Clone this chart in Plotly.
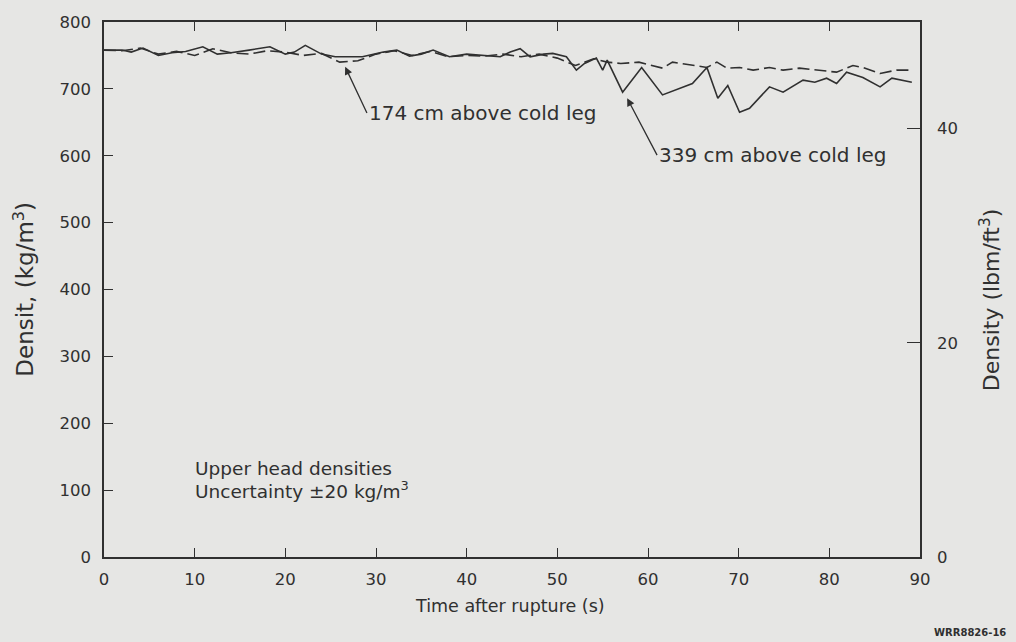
import plotly.graph_objects as go

# Time after rupture (s) and density (kg/m3) — 174 cm above cold leg (dashed)
t_174 = [0, 2, 4, 6, 8, 10, 12, 14, 16, 18, 20, 22, 24, 26, 28, 30, 32, 34, 36, 38, 40, 42,
         44, 46, 48, 50, 52, 54, 55.5, 57, 59, 61.6, 62.7, 64.9, 66.5, 67.6, 68.7, 70.1, 71.6,
         73.4, 74.9, 76.7, 78.6, 80.8, 82.6, 83.7, 85.6, 87.4, 89.1]
d_174 = [758, 757, 761, 752, 756, 750, 760, 754, 752, 757, 755, 750, 753, 740, 742, 752, 757,
         750, 756, 748, 750, 749, 752, 748, 752, 746, 735, 745, 740, 738, 740, 731, 740, 735,
         732, 740, 731, 732, 728, 732, 728, 731, 728, 725, 735, 732, 723, 728, 728]

# 339 cm above cold leg (solid)
t_339 = [0, 2, 3, 4.3, 6, 7.5, 9, 10.9, 12.5, 14, 16, 18.3, 20, 21, 22.2, 24, 25.5, 27, 28.5,
         30.8, 32.3, 33.7, 35, 36.3, 38.1, 40, 42, 43.7, 44.8, 45.9, 47, 48.5, 49.5, 51, 52.1,
         53, 54.3, 55, 55.5, 57.2, 59.3, 61.6, 64.9, 66.5, 67.7, 68.8, 70.1, 71.2, 73.4, 74.9,
         77.1, 78.4, 79.7, 80.8, 81.9, 83.7, 85.6, 86.9, 89.1]
d_339 = [758, 758, 755, 761, 750, 754, 756, 763, 752, 754, 758, 763, 752, 755, 765, 752, 748,
         748, 748, 755, 758, 749, 752, 758, 748, 752, 750, 748, 755, 760, 748, 752, 753, 748,
         728, 738, 746, 728, 743, 695, 732, 691, 708, 732, 686, 705, 665, 671, 703, 695, 713,
         710, 716, 708, 725, 717, 703, 716, 710]

x_ticks = [0, 10, 20, 30, 40, 50, 60, 70, 80, 90]
y_ticks = [0, 100, 200, 300, 400, 500, 600, 700, 800]
y2_ticks = [0, 20, 40]
KG_PER_LBM_FT3 = 16.0185

ink = "#303030"
bg = "#e6e6e4"
font = "DejaVu Sans, Verdana, sans-serif"

fig = go.Figure()
fig.add_trace(go.Scatter(x=t_174, y=d_174, mode="lines",
                         line=dict(color=ink, width=1.6, dash="12px,5px"),
                         showlegend=False, hoverinfo="skip"))
fig.add_trace(go.Scatter(x=t_339, y=d_339, mode="lines",
                         line=dict(color=ink, width=1.6),
                         showlegend=False, hoverinfo="skip"))
# invisible trace to activate the secondary (lbm/ft3) axis
fig.add_trace(go.Scatter(x=t_174, y=[v / KG_PER_LBM_FT3 for v in d_174], yaxis="y2",
                         mode="lines", line=dict(color="rgba(0,0,0,0)", width=0),
                         showlegend=False, hoverinfo="skip"))

fig.update_layout(
    width=1016, height=642,
    margin=dict(l=104, r=96, t=22, b=85, autoexpand=False),
    paper_bgcolor=bg, plot_bgcolor=bg,
    font=dict(family=font, color=ink, size=16),
    xaxis=dict(range=[0, 90], tickvals=x_ticks, ticks="inside", ticklen=9, tickwidth=1.2,
               tickcolor=ink, showline=True, linecolor=ink, linewidth=1.5, mirror="ticks",
               showgrid=False, zeroline=False, automargin=False, ticklabelstandoff=6,
               tickfont=dict(size=16.5)),
    yaxis=dict(range=[0, 800], tickvals=y_ticks, ticks="inside", ticklen=9, tickwidth=1.2,
               tickcolor=ink, showline=True, linecolor=ink, linewidth=1.5,
               showgrid=False, zeroline=False, automargin=False, ticklabelstandoff=8,
               tickfont=dict(size=16.5)),
    yaxis2=dict(range=[0, 800 / KG_PER_LBM_FT3], tickvals=y2_ticks, overlaying="y", side="right",
                ticks="inside", ticklen=13, tickwidth=1.2, tickcolor=ink,
                showline=True, linecolor=ink, linewidth=1.5,
                showgrid=False, zeroline=False, automargin=False, ticklabelstandoff=12,
                tickfont=dict(size=16.5)),
)

# axis titles
fig.add_annotation(x=0.4975, y=-0.0916, xref="paper", yref="paper",
                   text="Time after rupture (s)", showarrow=False,
                   xanchor="center", yanchor="middle", font=dict(size=17.5))
fig.add_annotation(x=-0.099, y=0.50, xref="paper", yref="paper",
                   text="Densit, (kg/m<sup>3</sup>)", showarrow=False, textangle=-90,
                   xanchor="center", yanchor="middle", font=dict(size=23))
fig.add_annotation(x=1.0858, y=0.48, xref="paper", yref="paper",
                   text="Density (lbm/ft<sup>3</sup>)", showarrow=False, textangle=-90,
                   xanchor="center", yanchor="middle", font=dict(size=22))

# curve labels with leader arrows (text sits at the arrow tail)
fig.add_annotation(x=26.6, y=733, ax=29.0, ay=664, xref="x", yref="y", axref="x", ayref="y",
                   text="174 cm above cold leg", showarrow=True, arrowhead=2, arrowsize=1.2,
                   arrowwidth=1.3, arrowcolor=ink, xanchor="left", yanchor="middle",
                   font=dict(size=20))
fig.add_annotation(x=57.7, y=686, ax=61.0, ay=601, xref="x", yref="y", axref="x", ayref="y",
                   text="339 cm above cold leg", showarrow=True, arrowhead=2, arrowsize=1.2,
                   arrowwidth=1.3, arrowcolor=ink, xanchor="left", yanchor="middle",
                   font=dict(size=20))

# note
fig.add_annotation(x=9.8, y=133, xref="x", yref="y", text="Upper head densities",
                   showarrow=False, xanchor="left", yanchor="middle", font=dict(size=18.5))
fig.add_annotation(x=9.8, y=100, xref="x", yref="y",
                   text="Uncertainty \u00b120 kg/m<sup>3</sup>",
                   showarrow=False, xanchor="left", yanchor="middle", font=dict(size=18.5))

# figure id
fig.add_annotation(x=1.108, y=-0.142, xref="paper", yref="paper",
                   text="<b>WRR8826-16</b>", showarrow=False, xanchor="right",
                   yanchor="middle", font=dict(size=10))

fig.write_html("out.html", config={"displayModeBar": False},
               post_script="document.body.style.margin='0';")
